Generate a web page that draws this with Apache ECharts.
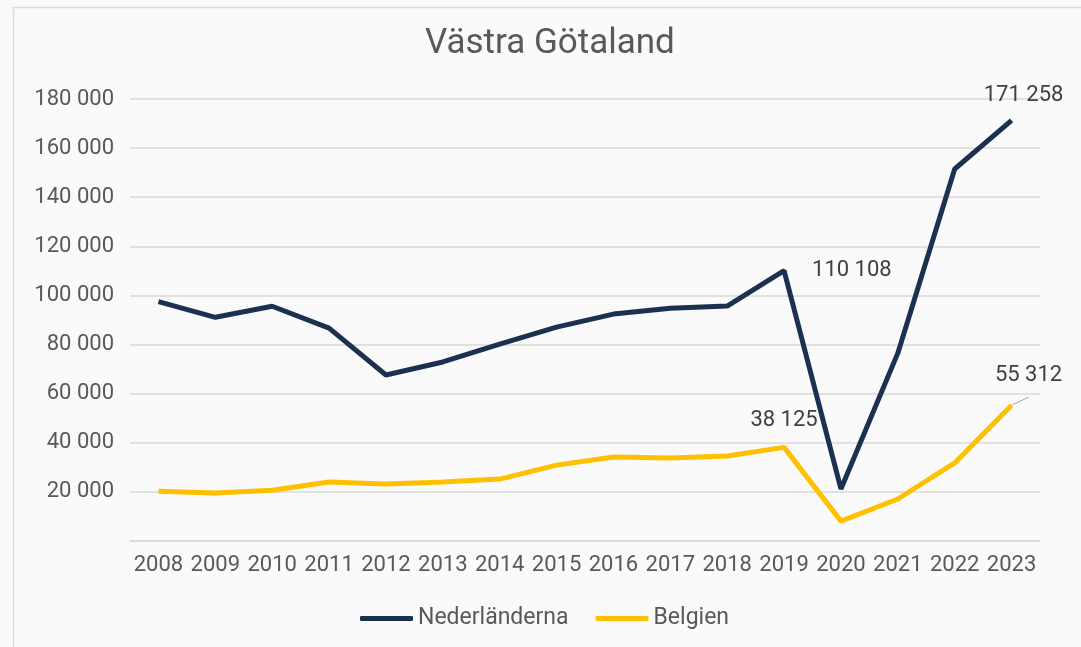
<!DOCTYPE html>
<html>
<head>
<meta charset="utf-8">
<script src="https://cdn.jsdelivr.net/npm/echarts@6/dist/echarts.min.js"></script>
<style>
  html, body { margin: 0; padding: 0; background: #fafafa; }
  #main { width: 1081px; height: 647px; }
</style>
</head>
<body>
<div id="main"></div>
<script>
var years = ['2008', '2009', '2010', '2011', '2012', '2013', '2014', '2015',
             '2016', '2017', '2018', '2019', '2020', '2021', '2022', '2023'];
var nederlanderna = [97500, 91100, 95600, 86700, 67600, 72900, 80200, 87100,
                     92400, 94800, 95700, 110108, 21200, 76500, 151500, 171258];
var belgien = [20300, 19500, 20700, 24000, 23200, 24000, 25200, 30900,
               34200, 33800, 34600, 38125, 8100, 17100, 31800, 55312];

function fmt(v) {
    return String(v).replace(/\B(?=(\d{3})+(?!\d))/g, ' ');
}

var textColor = '#595959';
var fontFam = 'Roboto, "Noto Sans", sans-serif';

// punkter som har etikett i originalet
var nedData = nederlanderna.map(function (v, i) {
    if (i === 11) {
        return { value: v, label: { show: true, position: 'right', distance: 28 } };
    }
    if (i === 15) {
        return { value: v, label: { show: true, position: 'top', distance: 14, offset: [12, 0] } };
    }
    return v;
});
var belData = belgien.map(function (v, i) {
    if (i === 11) {
        return { value: v, label: { show: true, position: 'top', distance: 16 } };
    }
    if (i === 15) {
        return { value: v, label: { show: true, position: 'top', distance: 19, offset: [17, 0] },
                 labelLine: { show: true, lineStyle: { color: '#a6a6a6', width: 1 } } };
    }
    return v;
});

var myChart = echarts.init(document.getElementById('main'));
var option = {
    backgroundColor: '#fafafa',
    title: {
        text: 'Västra Götaland',
        left: 420,
        top: 22,
        textStyle: { color: textColor, fontSize: 35, fontWeight: 'normal', fontFamily: fontFam }
    },
    graphic: [{
        type: 'rect',
        shape: { x: 13.5, y: 7.5, width: 1100, height: 700 },
        style: { fill: 'none', stroke: '#d9d9d9', lineWidth: 1.5 },
        silent: true
    }],
    legend: {
        top: 602,
        left: 355,
        itemWidth: 53,
        itemHeight: 5,
        itemGap: 27,
        icon: 'roundRect',
        textStyle: { color: textColor, fontSize: 23, fontFamily: fontFam },
        data: ['Nederländerna', 'Belgien']
    },
    grid: { left: 130, right: 41, top: 99, bottom: 106 },
    xAxis: {
        type: 'category',
        data: years,
        axisLine: { lineStyle: { color: '#d9d9d9', width: 1.5 } },
        axisTick: { show: false },
        axisLabel: { color: textColor, fontSize: 22, fontFamily: fontFam, margin: 13, interval: 0, hideOverlap: false }
    },
    yAxis: {
        type: 'value',
        min: 0,
        max: 180000,
        interval: 20000,
        axisLine: { show: false },
        axisTick: { show: false },
        splitLine: { lineStyle: { color: '#d9d9d9', width: 1.5 } },
        axisLabel: {
            color: textColor, fontSize: 22, fontFamily: fontFam, margin: 16,
            formatter: function (v) { return v === 0 ? '' : fmt(v); }
        }
    },
    series: [
        {
            name: 'Nederländerna',
            type: 'line',
            data: nedData,
            symbol: 'circle',
            symbolSize: 0,
            showSymbol: true,
            color: '#1c3150',
            lineStyle: { width: 5, color: '#1c3150' },
            label: { show: false, color: '#404040', fontSize: 22, fontFamily: fontFam, formatter: function (p) { return fmt(p.value); } }
        },
        {
            name: 'Belgien',
            type: 'line',
            data: belData,
            symbol: 'circle',
            symbolSize: 0,
            showSymbol: true,
            color: '#ffc000',
            lineStyle: { width: 5, color: '#ffc000' },
            label: { show: false, color: '#404040', fontSize: 22, fontFamily: fontFam, formatter: function (p) { return fmt(p.value); } }
        }
    ]
};
myChart.setOption(option);
</script>
</body>
</html>
